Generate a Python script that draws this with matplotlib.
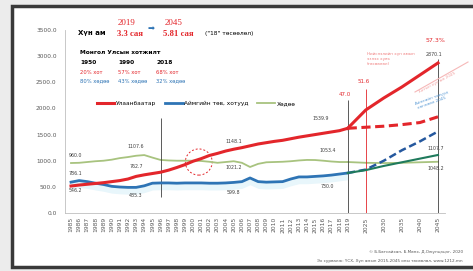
import numpy as np
import matplotlib
matplotlib.use('Agg')
from matplotlib import pyplot as plt
from matplotlib.patches import Ellipse, Rectangle

# annual data, thousands of people
years = list(range(1985, 2020))
ub = [516, 535, 550, 565, 580, 600, 620, 650, 700, 730, 755, 780, 820, 870, 925,
      990, 1040, 1100, 1140, 1185, 1220, 1250, 1285, 1320, 1345, 1370, 1390, 1420,
      1450, 1475, 1500, 1525, 1550, 1575, 1620]
aimag = [590, 620, 600, 570, 545, 510, 497, 490, 490, 520, 570, 575, 575, 570, 575,
         575, 575, 570, 570, 575, 585, 600, 670, 600, 590, 595, 600, 650, 690, 690,
         700, 710, 725, 745, 765]
rural = [956, 960, 975, 990, 1000, 1020, 1050, 1070, 1095, 1108, 1060, 1015, 1005,
         1000, 1000, 1000, 995, 980, 960, 975, 990, 960, 880, 940, 970, 975, 980,
         990, 1005, 1015, 1013, 1000, 985, 975, 975]

# projections
proj_years = [2019, 2025, 2030, 2035, 2040, 2045]
ub_proj_high = [1620, 1970, 2200, 2410, 2640, 2870]
ub_proj_low = [1620, 1640, 1660, 1690, 1730, 1840]
aimag_proj_high = [765, 830, 1000, 1200, 1370, 1560]
aimag_proj_low = [765, 820, 900, 970, 1040, 1110]
rural_proj = [975, 960, 955, 960, 970, 980]

tick_years = years + [2025, 2030, 2035, 2040, 2045]


def xpos(y):
    # one slot per year up to 2019, the 5-year projection steps are squeezed
    y = np.asarray(y, dtype=float)
    return np.where(y <= 2019, y - 1985, 34 + (y - 2020) / 5 * 2.22)


def px(x, y):
    return x / 473, 1 - y / 271


fig = plt.figure(figsize=(4.73, 2.71), dpi=100, facecolor='#ececec')
fig.patches.append(Rectangle(px(12, 267), 470 / 473, 261 / 271, transform=fig.transFigure,
                             fc='white', ec='#3a3a3a', lw=2.5, zorder=-10))

ax = fig.add_axes([65 / 473, 58 / 271, 380 / 473, 183 / 271])
ax.set_facecolor('none')

red = '#e3262b'
blue = '#2e74b5'
dblue = '#25589e'
green = '#a8c37f'
dgreen = '#1f7a5c'

ax.fill_between(xpos(years), np.array(aimag) - 130, aimag, color='#e8f6fb', lw=0, zorder=1)

ax.plot(xpos(years), ub, color=red, lw=2.2, label='Улаанбаатар', zorder=4)
ax.plot(xpos(years), aimag, color=blue, lw=2.0, label='Аймгийн төв, хотууд', zorder=3)
ax.plot(xpos(years), rural, color=green, lw=1.3, label='Хөдөө', zorder=2)

ax.plot(xpos(proj_years), ub_proj_high, color=red, lw=2.2, zorder=4)
ax.plot(xpos(proj_years), ub_proj_low, color=red, lw=2.2, ls=(0, (3, 1.5)), zorder=4)
ax.plot(xpos(proj_years), aimag_proj_high, color=dblue, lw=1.8, ls=(0, (3, 1.5)), zorder=3)
ax.plot(xpos(proj_years), aimag_proj_low, color=dgreen, lw=1.5, zorder=3)
ax.plot(xpos(proj_years), rural_proj, color=green, lw=1.3, zorder=2)

# vertical markers
ax.vlines(xpos(1996), 300, 1820, color='#404040', lw=0.6)
ax.vlines(xpos(2019), 0, 2160, color='#404040', lw=0.6)
ax.vlines(xpos(2025), 0, 2380, color=red, lw=0.6)
ax.vlines(xpos(2045), 0, 2950, color='#404040', lw=0.6)

ax.add_patch(Ellipse((xpos(2000.7), 975), 3.3, 500, fill=False, ec=red, lw=0.7, ls=(0, (2, 2))))

# data labels
fs = 3.4
lab = [(1985.5, 1100, '960.0'), (1985.5, 760, '786.1'), (1985.5, 430, '546.2'),
       (1993, 1270, '1107.6'), (1993, 880, '762.7'), (1993, 330, '485.3'),
       (2005, 1370, '1148.1'), (2005, 870, '1021.2'), (2005, 400, '599.8'),
       (2016.5, 1190, '1053.4'), (2016.5, 500, '730.0'), (2015.7, 1800, '1539.9')]
for yr, v, t in lab:
    ax.text(xpos(yr), v, t, fontsize=fs, color='#404040', ha='center', va='center')

ax.text(xpos(2019) - 0.4, 2210, '47.0', fontsize=4, color=red, ha='center', va='bottom')
ax.text(xpos(2025) - 0.2, 2460, '51.6', fontsize=4, color=red, ha='center', va='bottom')
ax.text(xpos(2045) - 0.3, 3250, '57.3%', fontsize=4.5, color=red, ha='center', va='bottom')
ax.text(xpos(2045) - 0.5, 2980, '2870.1', fontsize=fs, color='#404040', ha='center', va='bottom')
ax.text(xpos(2045) - 0.3, 1230, '1107.7', fontsize=fs, color='#404040', ha='center', va='center')
ax.text(xpos(2045) - 0.3, 860, '1048.2', fontsize=fs, color='#404040', ha='center', va='center')

ax.set_xlim(-0.74, 45.96)
ax.set_ylim(0, 3500)
ax.set_yticks(range(0, 3501, 500))
ax.set_yticklabels(['%.1f' % v for v in range(0, 3501, 500)])
ax.set_xticks(xpos(tick_years))
ax.set_xticklabels([str(y) for y in tick_years], rotation=90)
ax.tick_params(axis='x', labelsize=4.3, colors='#595959', length=0, pad=3)
ax.tick_params(axis='y', labelsize=4.2, colors='#595959', length=0, pad=6)
for s in ['top', 'right']:
    ax.spines[s].set_visible(False)
for s in ['left', 'bottom']:
    ax.spines[s].set_color('#bfbfbf')
    ax.spines[s].set_linewidth(0.6)

ax.legend(loc='center left', bbox_to_anchor=(0.07, 0.6), ncol=3, frameon=False,
          fontsize=4.2, handlelength=3, columnspacing=1.5, handletextpad=0.3)

# header text
fig.text(*px(78, 33), 'Хүн ам', fontsize=5, fontweight='bold', va='center')
fig.text(*px(118, 23), '2019', fontsize=6.5, color=red, family='Liberation Serif', va='center')
fig.text(*px(117, 34), '3.3 сая', fontsize=6.3, color=red, fontweight='bold',
         family='Liberation Serif', va='center')
fig.text(*px(148, 28), '➡', fontsize=6, color=blue, va='center')
fig.text(*px(165, 23), '2045', fontsize=6.5, color=red, family='Liberation Serif', va='center')
fig.text(*px(163, 34), '5.81 сая', fontsize=6.3, color=red, fontweight='bold',
         family='Liberation Serif', va='center')
fig.text(*px(205, 34), '("18" төсөөлөл)', fontsize=4.2, va='center')

fig.text(*px(80, 52), 'Монгол Улсын хотжилт', fontsize=4.2, fontweight='bold', va='center')
cols = [('1950', '20% хот', '80% хөдөө'), ('1990', '57% хот', '43% хөдөө'),
        ('2018', '68% хот', '32% хөдөө')]
for i, (yr, city, rur) in enumerate(cols):
    x0 = 80 + i * 38
    fig.text(*px(x0, 62), yr, fontsize=4.2, fontweight='bold', va='center')
    fig.text(*px(x0, 72), city, fontsize=3.8, color=red, va='center')
    fig.text(*px(x0, 81), rur, fontsize=3.8, color=blue, va='center')

fig.text(*px(367, 52), 'Нийслэлийн хүн амын\nэзлэх хувь\n(төсөөлөл)', fontsize=3,
         color='#f08080', va='top', linespacing=1.3)
fig.text(*px(418, 94), 'Хотын хүн ам 2045', fontsize=3, color='#f2a0a0', rotation=28,
         va='bottom')
fig.lines.append(plt.Line2D([415 / 473, 468 / 473], [1 - 92 / 271, 1 - 62 / 271],
                            transform=fig.transFigure, color='#f6b8b8', lw=0.8))
fig.text(*px(415, 110), 'Аймгийн төвүүд\nхөгжвөл 2045', fontsize=3, color='#5b9bd5',
         rotation=20, va='bottom', linespacing=1.2)

fig.text(*px(463, 252), '© Б.Батсайхан, Б.Мөнх, Д.Оюунцэцэг, 2020', fontsize=3,
         color='#595959', ha='right', va='center')
fig.text(*px(463, 261), 'Эх сурвалж: ҮСХ, Хүн амын 2015-2045 оны төсөөлөл, www.1212.mn',
         fontsize=3, color='#595959', ha='right', va='center')

fig.savefig('out.png', dpi=100, facecolor=fig.get_facecolor())
